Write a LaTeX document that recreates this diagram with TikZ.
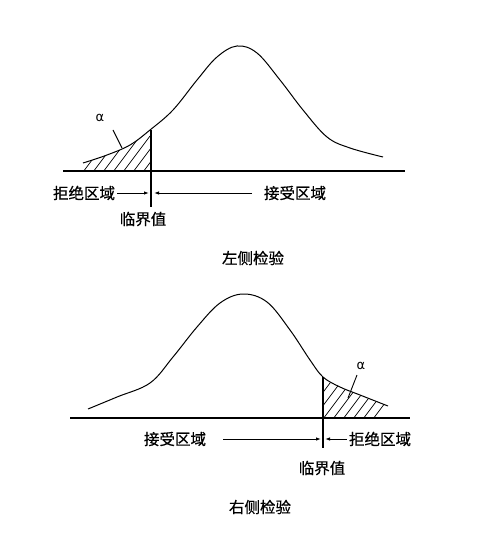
\documentclass[tikz,border=0pt]{standalone}
\usepackage{fontspec}
\newfontfamily\cjk[FakeBold=0.6]{Noto Sans CJK SC}
\newfontfamily\grk{DejaVu Sans}
\usetikzlibrary{arrows.meta}
\begin{document}
\begin{tikzpicture}[x=1pt,y=-1pt,
  curve/.style={line width=1pt},
  axis/.style={line width=1.2pt},
  hatch/.style={line width=0.7pt},
  lbl/.style={font=\cjk\fontsize{15.5}{16}\selectfont, inner sep=0pt},
  alab/.style={font=\grk\fontsize{13}{13}\selectfont, inner sep=0pt},
  arr/.style={line width=0.9pt, -{Latex[length=5pt,width=3.5pt]}}]
\useasboundingbox (0,0) rectangle (481,537);
\fill[white] (0,0) rectangle (481,537);

% ---------- top panel: left-tailed test ----------
\begin{scope}
  \clip plot[smooth, tension=0.6] coordinates {(83,163) (107,155) (130,145) (150,130)}
        -- (150,171) -- (83,171) -- cycle;
  \foreach \i in {0,...,10} {
    \draw[hatch] (60+\i*10,176) -- ++(30,-40);
  }
\end{scope}
\draw[curve] plot[smooth, tension=0.6] coordinates {
  (83,163) (107,155) (130,145) (150,130) (173,110) (197,80) (217,57)
  (237,46) (257,53) (280,80) (303,110) (327,137) (350,148) (383,157)};
\draw[axis] (63,171) -- (405,171);
\coordinate (tc1) at (151,130);
\coordinate (tc2) at (151,207);
\draw[axis] (tc1) -- (tc2);
\node[lbl] (trej) at (84,193) {拒绝区域};
\node[lbl] (tacc) at (295,193) {接受区域};
\node[lbl] (tcrit) at (143,219) {临界值};
\node[lbl] (ttitle) at (253,258) {左侧检验};
\node[alab] (talpha) at (100,118) {α};
\coordinate (tap1) at (113,130);
\coordinate (tap2) at (122,148);
\draw[line width=0.9pt] (tap1) -- (tap2);
\coordinate (tl) at (149,193);
\coordinate (tr) at (154,193);
\draw[arr] (trej.east) ++(2,0) -- (tl);
\draw[arr] (252,193) -- (tr);

% ---------- bottom panel: right-tailed test ----------
\begin{scope}
  \clip (323,377) -- plot[smooth, tension=0.6] coordinates {(323,377) (340,387) (360,395) (388,406)}
        -- (375,418) -- (323,418) -- cycle;
  \foreach \i in {0,...,10} {
    \draw[hatch] (300+\i*10,423) -- ++(30,-40);
  }
\end{scope}
\draw[curve] plot[smooth, tension=0.6] coordinates {
  (88,409) (117,397) (150,383) (173,357) (197,327) (220,303) (243,294)
  (267,302) (290,330) (310,360) (323,377) (340,387) (360,395) (388,406)};
\draw[axis] (70,418) -- (410,418);
\coordinate (bc1) at (323,377);
\coordinate (bc2) at (323,448);
\draw[axis] (bc1) -- (bc2);
\node[lbl] (bacc) at (175,439) {接受区域};
\node[lbl] (brej) at (380,439) {拒绝区域};
\node[lbl] (bcrit) at (322,468) {临界值};
\node[lbl] (btitle) at (260,507) {右侧检验};
\node[alab] (balpha) at (361,366) {α};
\coordinate (bap1) at (357,375);
\coordinate (bap2) at (348,398);
\draw[line width=0.9pt] (bap1) -- (bap2);
\coordinate (bl) at (321,439);
\coordinate (br) at (325,439);
\draw[arr] (223,439) -- (bl);
\draw[arr] (brej.west) ++(-2,0) -- (br);
\end{tikzpicture}
\end{document}
